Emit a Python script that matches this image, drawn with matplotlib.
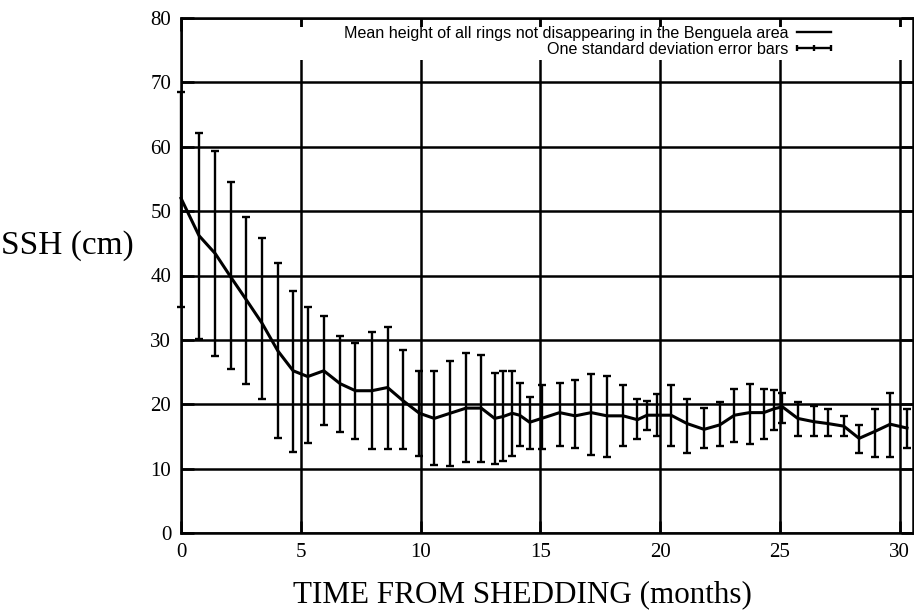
import matplotlib
matplotlib.use("Agg")
import matplotlib.pyplot as plt
from matplotlib.lines import Line2D
from matplotlib.collections import LineCollection
from matplotlib.legend_handler import HandlerBase
from matplotlib.patches import Rectangle

# time since shedding (months) and ring height statistics (cm)
months = [0.00, 0.75, 1.43, 2.07, 2.73, 3.38, 4.04, 4.68, 5.29, 5.96,
          6.64, 7.28, 7.96, 8.62, 9.25, 9.95, 10.57, 11.23, 11.90, 12.53,
          13.09, 13.45, 13.82, 14.13, 14.55, 15.05, 15.80, 16.45, 17.12, 17.78,
          18.45, 19.05, 19.45, 19.87, 20.45, 21.12, 21.83, 22.49, 23.10, 23.73,
          24.32, 24.75, 25.10, 25.74, 26.40, 27.00, 27.66, 28.30, 28.97, 29.60,
          30.30]
ssh_mean = [52.0, 46.2, 43.4, 39.8, 36.2, 32.6, 28.3, 25.2, 24.3, 25.2,
            23.2, 22.1, 22.1, 22.6, 20.6, 18.6, 17.8, 18.6, 19.4, 19.4,
            17.8, 18.1, 18.6, 18.3, 17.2, 17.8, 18.7, 18.2, 18.7, 18.2,
            18.2, 17.6, 18.3, 18.3, 18.3, 17.0, 16.1, 16.8, 18.3, 18.7,
            18.7, 19.3, 19.6, 17.8, 17.3, 17.0, 16.6, 14.7, 15.8, 16.9,
            16.3]
ssh_low = [35.1, 30.1, 27.5, 25.5, 23.2, 20.8, 14.7, 12.6, 14.0, 16.8,
           15.7, 14.6, 13.1, 13.1, 13.0, 11.9, 10.6, 10.4, 11.0, 11.0,
           10.7, 11.2, 12.0, 13.5, 13.1, 13.1, 13.5, 13.2, 12.1, 11.8,
           13.5, 14.6, 16.0, 15.0, 13.5, 12.5, 13.2, 13.5, 14.2, 13.9,
           14.6, 16.0, 17.1, 15.0, 15.0, 15.0, 15.0, 12.5, 11.8, 11.8,
           13.2]
ssh_high = [68.5, 62.2, 59.3, 54.5, 49.1, 45.9, 42.0, 37.6, 35.1, 33.7,
            30.6, 29.5, 31.3, 32.0, 28.5, 25.1, 25.1, 26.7, 28.0, 27.7,
            24.8, 25.1, 25.1, 23.3, 21.2, 23.0, 23.3, 23.7, 24.7, 24.4,
            23.0, 20.8, 20.5, 21.6, 23.0, 20.8, 19.4, 20.4, 22.4, 23.2,
            22.4, 22.2, 21.7, 20.3, 19.8, 19.3, 18.2, 16.8, 19.3, 21.7,
            19.3]

err_below = [m - lo for m, lo in zip(ssh_mean, ssh_low)]
err_above = [hi - m for m, hi in zip(ssh_mean, ssh_high)]


class HandlerTickedLine(HandlerBase):
    # gnuplot-like key sample: a line with small ticks at both ends and middle
    def create_artists(self, legend, orig_handle, xdescent, ydescent,
                       width, height, fontsize, trans):
        y = height / 2 - ydescent
        x0 = -xdescent
        x1 = width - xdescent
        xm = (x0 + x1) / 2
        h = height * 0.3
        segs = [[(x0, y), (x1, y)],
                [(x0, y - h), (x0, y + h)],
                [(xm, y - h), (xm, y + h)],
                [(x1, y - h), (x1, y + h)]]
        lc = LineCollection(segs, colors="black", linewidths=1.7, transform=trans)
        return [lc]


plt.rcParams["font.family"] = "Liberation Serif"

fig = plt.figure(figsize=(9.14, 6.11), dpi=100)
ax = fig.add_axes([181 / 914, 1 - 533 / 611, 732 / 914, 515 / 611])

eb = ax.errorbar(months, ssh_mean, yerr=[err_below, err_above], color="black",
                 lw=2.2, elinewidth=1.7, capsize=3.2, capthick=1.7, zorder=4)
eb.lines[0].set_clip_on(False)
for art in list(eb.lines[1]) + list(eb.lines[2]):
    art.set_clip_on(False)

ax.set_xlim(0, 30.55)
ax.set_ylim(0, 80)
ax.set_xticks(range(0, 31, 5))
ax.set_yticks(range(0, 81, 10))
ax.grid(True, color="black", lw=1.8)
ax.tick_params(direction="in", length=9, width=1.8, top=True, right=True,
               labelsize=15, pad=7)
for sp in ax.spines.values():
    sp.set_linewidth(1.8)

# blank strip behind the key
ax.add_patch(Rectangle((0.012, 0.918), 0.985, 0.065, transform=ax.transAxes,
                       facecolor="white", edgecolor="none", zorder=3))

handles = [Line2D([], [], color="black", lw=1.7), object()]
labels = ["Mean height of all rings not disappearing in the Benguela area",
          "One standard deviation error bars"]
ax.legend(handles, labels, handler_map={object: HandlerTickedLine()},
          loc="upper right", bbox_to_anchor=(0.888, 0.985), frameon=False,
          markerfirst=False, prop={"family": "Liberation Sans", "size": 11.6},
          handlelength=2.1, handletextpad=0.55, labelspacing=0.05,
          borderaxespad=0, borderpad=0)

ax.set_xlabel("TIME FROM SHEDDING (months)", fontsize=22.4, va="center")
ax.xaxis.set_label_coords(0.467, -0.12)
ax.set_ylabel("SSH (cm)", fontsize=24, rotation=0, ha="center", va="center")
ax.yaxis.set_label_coords(-0.155, 0.559)

fig.savefig("out.png", dpi=100)
